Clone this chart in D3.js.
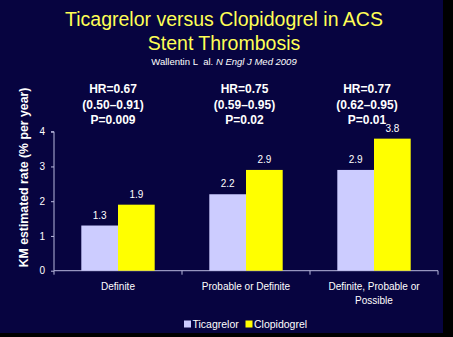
<!DOCTYPE html>
<html><head><meta charset="utf-8">
<script src="https://cdn.jsdelivr.net/npm/d3@7"></script>
<style>html,body{margin:0;padding:0;background:#000;}svg{display:block;}</style>
</head><body>
<script>
const categories = [["Definite"], ["Probable or Definite"], ["Definite, Probable or", "Possible"]];
const seriesNames = ["Ticagrelor", "Clopidogrel"];
const ticagrelor = [1.3, 2.2, 2.9];
const clopidogrel = [1.9, 2.9, 3.8];
const hrLines = [
  ["HR=0.67", "(0.50\u20130.91)", "P=0.009"],
  ["HR=0.75", "(0.59\u20130.95)", "P=0.02"],
  ["HR=0.77", "(0.62\u20130.95)", "P=0.01"]
];
const yTicks = [0, 1, 2, 3, 4];
const colors = ["#ccccff", "#ffff00"];

const W = 453, H = 337;
const svg = d3.select("body").append("svg").attr("width", W).attr("height", H);
svg.append("rect").attr("width", W).attr("height", H).attr("fill", "#000");
svg.append("rect").attr("width", 443).attr("height", 333).attr("fill", "#070440");

const font = "Arial, 'Liberation Sans', sans-serif";
svg.append("text").attr("x", 224).attr("y", 26).attr("text-anchor", "middle")
  .attr("font-family", font).attr("font-size", 19.5).attr("fill", "#ffff55")
  .text("Ticagrelor versus Clopidogrel in ACS");
svg.append("text").attr("x", 224).attr("y", 50).attr("text-anchor", "middle")
  .attr("font-family", font).attr("font-size", 19.5).attr("fill", "#ffff55")
  .text("Stent Thrombosis");
const sub = svg.append("text").attr("x", 224).attr("y", 65).attr("text-anchor", "middle")
  .attr("font-family", font).attr("font-size", 9.5).attr("fill", "#ffffff");
sub.append("tspan").text("Wallentin L\u00a0 al. ");
sub.append("tspan").attr("font-style", "italic").text("N Engl J Med 2009");

const m = {left: 54, right: 438, top: 131.7, bottom: 270.7};
const x0 = d3.scaleBand().domain(d3.range(categories.length)).range([m.left, m.right]).paddingInner(0).paddingOuter(0);
const x1 = d3.scaleBand().domain(seriesNames).range([0, x0.bandwidth()]).paddingInner(0).paddingOuter(0.744);
const y = d3.scaleLinear().domain([0, 4]).range([m.bottom, m.top]);

const axisColor = "#b8b8dd";
const yAxis = svg.append("g").attr("transform", `translate(${m.left},0)`)
  .call(d3.axisLeft(y).tickValues(yTicks).tickSize(3).tickPadding(6).tickFormat(d3.format("d")));
yAxis.select(".domain").attr("stroke", axisColor).attr("d", `M-3,${m.top}H0V${m.bottom}`);
yAxis.selectAll(".tick line").attr("stroke", axisColor);
yAxis.selectAll(".tick text").attr("fill", "#fff").attr("font-family", font).attr("font-size", 10);

const xAxis = svg.append("g").attr("transform", `translate(0,${m.bottom})`);
xAxis.append("line").attr("x1", m.left).attr("x2", m.right).attr("stroke", axisColor);
xAxis.selectAll(".div").data(d3.range(categories.length + 1)).join("line")
  .attr("x1", (d, i) => i < categories.length ? x0(i) : m.right)
  .attr("x2", (d, i) => i < categories.length ? x0(i) : m.right)
  .attr("y1", 0).attr("y2", 4).attr("stroke", axisColor);

svg.append("text").attr("transform", `translate(27.5,177.5) rotate(-90)`)
  .attr("text-anchor", "middle").attr("font-family", font).attr("font-weight", "bold")
  .attr("font-size", 12.3).attr("fill", "#fff").text("KM estimated rate (% per year)");

const series = [ticagrelor, clopidogrel];
series.forEach((vals, si) => {
  const g = svg.append("g");
  g.selectAll("rect").data(vals).join("rect")
    .attr("x", (d, i) => x0(i) + x1(seriesNames[si]))
    .attr("y", d => y(d)).attr("width", x1.bandwidth())
    .attr("height", d => y(0) - y(d)).attr("fill", colors[si]);
  g.selectAll("text").data(vals).join("text")
    .attr("x", (d, i) => x0(i) + x1(seriesNames[si]) + x1.bandwidth() / 2)
    .attr("y", d => y(d) - 7).attr("text-anchor", "middle")
    .attr("font-family", font).attr("font-size", 10).attr("fill", "#fff")
    .text(d => d.toFixed(1));
});

categories.forEach((lines, i) => {
  lines.forEach((t, j) => {
    svg.append("text").attr("x", x0(i) + x0.bandwidth() / 2).attr("y", 290 + j * 14)
      .attr("text-anchor", "middle").attr("font-family", font).attr("font-size", 10)
      .attr("fill", "#fff").text(t);
  });
});

const hrOffsets = [-5, -1.5, -7];
hrLines.forEach((lines, i) => {
  lines.forEach((t, j) => {
    svg.append("text").attr("x", x0(i) + x0.bandwidth() / 2 + hrOffsets[i]).attr("y", 93 + j * 15.5)
      .attr("text-anchor", "middle").attr("font-family", font).attr("font-size", 12)
      .attr("font-weight", "bold").attr("fill", "#fff").text(t);
  });
});

const leg = svg.append("g");
const legX = [184, 245.5];
seriesNames.forEach((s, i) => {
  leg.append("rect").attr("x", legX[i]).attr("y", 320.5).attr("width", 7).attr("height", 7).attr("fill", colors[i]);
  leg.append("text").attr("x", legX[i] + 8.5).attr("y", 328).attr("font-family", font)
    .attr("font-size", 10.5).attr("fill", "#fff").text(s);
});
</script>
</body></html>
